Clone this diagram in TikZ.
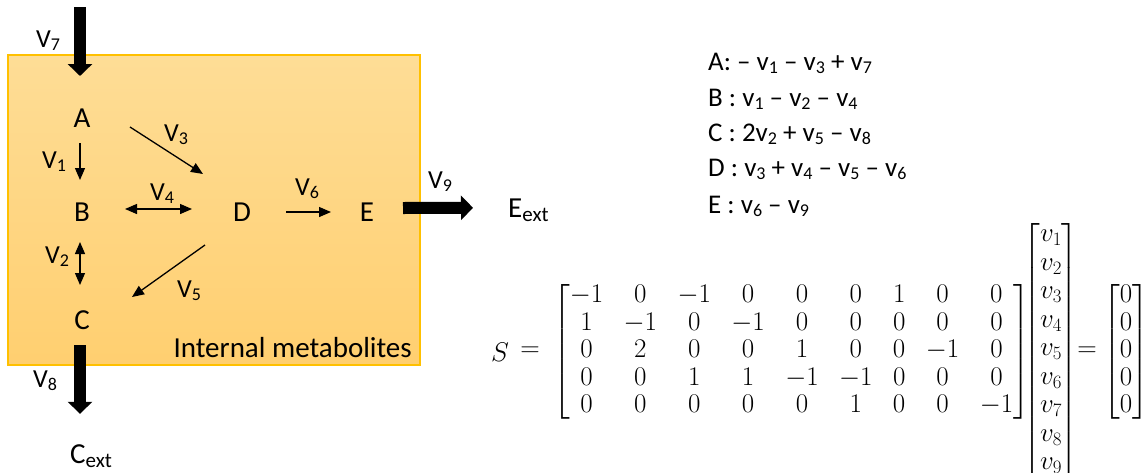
\RequirePackage{fix-cm}
\documentclass[tikz,border=0pt]{standalone}
\usepackage{amsmath}
\usepackage{fontspec}
\setmainfont{Carlito}
\usetikzlibrary{arrows.meta}

\definecolor{boxtop}{RGB}{254,221,150}
\definecolor{boxbot}{RGB}{255,207,112}
\definecolor{boxline}{RGB}{255,192,0}

% flux label V_n, metabolite-balance term v_n, and "ext" subscript
\newcommand\fluxlab[1]{V\raisebox{-3pt}{\fontsize{18}{18}\selectfont #1}}
\newcommand\vt[1]{v\raisebox{-3.5pt}{\fontsize{18}{18}\selectfont #1}}
\newcommand\subx[1]{\raisebox{-4pt}{\fontsize{21}{21}\selectfont #1}}

\tikzset{
  met/.style={inner sep=0pt, font=\fontsize{29}{34}\selectfont, text height=18pt, text depth=0pt},
  fluxname/.style={inner sep=0pt, anchor=base west, font=\fontsize{26}{30}\selectfont},
  tarrow/.style={line width=1.3pt, -{Triangle[length=12pt,width=10pt]}},
  darrow/.style={line width=1.3pt, {Triangle[length=12pt,width=10pt]}-{Triangle[length=12pt,width=10pt]}},
  bigarrow/.style={line width=12pt, -{Triangle[length=12pt,width=24pt]}},
  eqline/.style={inner sep=0pt, anchor=base west, font=\fontsize{27}{30}\selectfont},
  mat/.style={inner sep=0pt, font=\fontsize{27}{27.5}\selectfont},
}

\begin{document}
\begin{tikzpicture}[x=1pt,y=-1pt]
\useasboundingbox (0,0) rectangle (1143,472);

% compartment of internal metabolites
\shade[top color=boxtop, bottom color=boxbot] (8,55) rectangle (420,365);
\draw[boxline, line width=1.3pt] (8,55) rectangle (420,365);
\node[inner sep=0pt, anchor=base east, font=\fontsize{29}{34}\selectfont] (intlab) at (412,357) {Internal metabolites};

% metabolites
\node[met] (A) at (82,118) {A};
\node[met] (B) at (82,212) {B};
\node[met] (C) at (82,320) {C};
\node[met] (D) at (242,212) {D};
\node[met] (E) at (367,212) {E};
\node[met, anchor=base west] (Eext) at (508,217) {E\subx{ext}};
\node[met, anchor=base west] (Cext) at (70,463) {C\subx{ext}};

% exchange fluxes
\coordinate (v7in) at (80,7);
\draw[bigarrow] (v7in) -- ([shift={(-2,-42)}]A.center);
\draw[bigarrow] ([shift={(-2,25)}]C.center) -- ([shift={(10,-31)}]Cext.north west);
\draw[bigarrow] ([shift={(36,-4)}]E.center) -- ([shift={(-35,9)}]Eext.north west);

% internal reactions
\draw[tarrow] ([shift={(-2,25)}]A.center) -- ([shift={(-2,-32)}]B.center);
\draw[tarrow] ([shift={(48,9)}]A.center) -- ([shift={(-39,-38)}]D.center);
\draw[darrow] ([shift={(43,-3)}]B.center) -- ([shift={(-50,-3)}]D.center);
\draw[tarrow] ([shift={(44,0)}]D.center) -- ([shift={(-36,0)}]E.center);
\draw[darrow] ([shift={(-2,30)}]B.center) -- ([shift={(-2,-35)}]C.center);
\draw[tarrow] ([shift={(-37,33)}]D.center) -- ([shift={(50,-23)}]C.center);

% flux labels
\node[fluxname] (l7) at (36,47) {\fluxlab{7}};
\node[fluxname] (l1) at (42,168) {\fluxlab{1}};
\node[fluxname] (l3) at (164,141) {\fluxlab{3}};
\node[fluxname] (l4) at (150,200) {\fluxlab{4}};
\node[fluxname] (l6) at (295,195) {\fluxlab{6}};
\node[fluxname] (l9) at (428,188) {\fluxlab{9}};
\node[fluxname] (l2) at (45,263) {\fluxlab{2}};
\node[fluxname] (l5) at (177,297) {\fluxlab{5}};
\node[fluxname] (l8) at (33,387) {\fluxlab{8}};

% mass balances
\node[eqline] (balA) at (708,70)  {A: – \vt{1} – \vt{3} + \vt{7}};
\node[eqline] (balB) at (708,106) {B : \vt{1} – \vt{2} – \vt{4}};
\node[eqline] (balC) at (708,141) {C : 2\vt{2} + \vt{5} – \vt{8}};
\node[eqline] (balD) at (708,176) {D : \vt{3} + \vt{4} – \vt{5} – \vt{6}};
\node[eqline] (balE) at (708,213) {E : \vt{6} – \vt{9}};

% stoichiometric system S v = 0
\node[mat] (Slab) at (500,352) {$S$};
\node[mat] (eq1) at (530,352) {$=$};
\node[mat, anchor=west] (Smat) at (553,352) {\arraycolsep=10.25pt $\begin{bmatrix}
-1 & 0 & -1 & 0 & 0 & 0 & 1 & 0 & 0\\
1 & -1 & 0 & -1 & 0 & 0 & 0 & 0 & 0\\
0 & 2 & 0 & 0 & 1 & 0 & 0 & -1 & 0\\
0 & 0 & 1 & 1 & -1 & -1 & 0 & 0 & 0\\
0 & 0 & 0 & 0 & 0 & 1 & 0 & 0 & -1
\end{bmatrix}$};
\node[mat, font=\fontsize{27}{28.5}\selectfont] (vvec) at (1051,350) {$\begin{bmatrix}
v_1\\ v_2\\ v_3\\ v_4\\ v_5\\ v_6\\ v_7\\ v_8\\ v_9
\end{bmatrix}$};
\node[mat] (eq2) at (1087,352) {$=$};
\node[mat] (zvec) at (1126,352) {$\begin{bmatrix}0\\0\\0\\0\\0\end{bmatrix}$};
\end{tikzpicture}
\end{document}
